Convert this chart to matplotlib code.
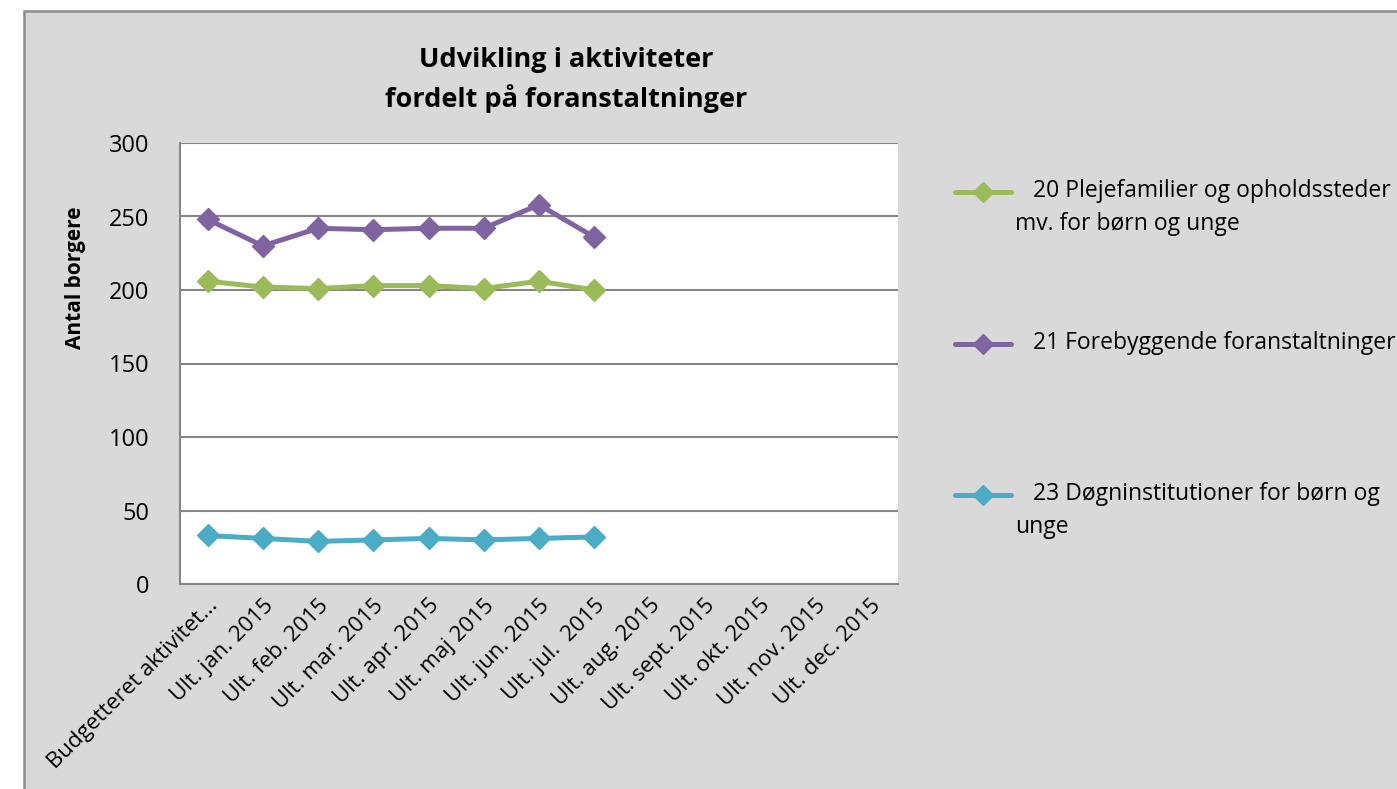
import matplotlib
matplotlib.use("Agg")
import matplotlib.pyplot as plt
from matplotlib.patches import Rectangle
from matplotlib.lines import Line2D

plt.rcParams['font.family'] = ['Open Sans', 'DejaVu Sans']

# data
kategorier = ["Budgetteret aktivitet...", "Ult. jan. 2015", "Ult. feb. 2015", "Ult. mar. 2015",
              "Ult. apr. 2015", "Ult. maj 2015", "Ult. jun. 2015", "Ult. jul.  2015",
              "Ult. aug. 2015", "Ult. sept. 2015", "Ult. okt. 2015", "Ult. nov. 2015",
              "Ult. dec. 2015"]
plejefamilier = [206, 202, 201, 203, 203, 201, 206, 200]
forebyggende = [248, 230, 242, 241, 242, 242, 258, 236]
doegninst = [33, 31, 29, 30, 31, 30, 31, 32]
serie_navne = ["   20 Plejefamilier og opholdssteder\nmv. for børn og unge",
               "   21 Forebyggende foranstaltninger",
               "   23 Døgninstitutioner for børn og\nunge"]
farver = ["#9BBB59", "#8064A2", "#4BACC6"]
y_ticks = [0, 50, 100, 150, 200, 250, 300]

W, H = 1397, 789
fig = plt.figure(figsize=(W / 100, H / 100), dpi=100, facecolor="white")

# chart area background with border
fig.add_artist(Rectangle((24 / W, -0.05), 1.1, 1 - 11 / H + 0.05, transform=fig.transFigure,
                         facecolor="#D9D9D9", edgecolor="#8C8C8C", linewidth=1.8, zorder=0))

ax = fig.add_axes([180 / W, (H - 584) / H, 718 / W, 441 / H])
ax.set_facecolor("white")

serier = [plejefamilier, forebyggende, doegninst]
for vals, c in zip(serier, farver):
    ax.plot(range(len(vals)), vals, color=c, linewidth=3.6, marker="D", markersize=11,
            zorder=3, solid_joinstyle="round")

ax.set_xlim(-0.5, len(kategorier) - 0.5)
ax.set_ylim(0, 300)
ax.set_yticks(y_ticks)
ax.set_yticklabels([str(v) for v in y_ticks], fontsize=17)
ax.set_xticks(range(len(kategorier)))
ax.set_xticklabels(kategorier, rotation=45, ha="right", rotation_mode="anchor", fontsize=16)
ax.tick_params(length=0)
ax.tick_params(axis="y", pad=22)
ax.tick_params(axis="x", pad=8)
ax.yaxis.grid(True, color="#868686", linewidth=1.5)
ax.set_axisbelow(True)
for s in ["top", "right"]:
    ax.spines[s].set_visible(False)
for s in ["left", "bottom"]:
    ax.spines[s].set_color("#868686")
    ax.spines[s].set_linewidth(1.5)

fig.text(566 / W, 1 - 80 / H, "Udvikling i aktiviteter\nfordelt på foranstaltninger",
         ha="center", va="center", fontsize=19.5, fontweight="bold", linespacing=1.45)
fig.text(75 / W, 1 - 278 / H, "Antal borgere", rotation=90, ha="center", va="center",
         fontsize=15, fontweight="bold")

# legend
leg_y = [192, 344, 495]
for y, navn, c in zip(leg_y, serie_navne, farver):
    fy = 1 - y / H
    fig.add_artist(Line2D([955 / W, 1011 / W], [fy, fy], transform=fig.transFigure,
                          color=c, linewidth=3.6, solid_capstyle="round"))
    fig.add_artist(Line2D([983 / W], [fy], transform=fig.transFigure, color=c,
                          marker="D", markersize=10, linestyle="none"))
    fig.text(1015 / W, fy + 13 / H, navn, ha="left", va="top", fontsize=16.5, linespacing=1.5)

fig.savefig("out.png", dpi=100, facecolor="white")
